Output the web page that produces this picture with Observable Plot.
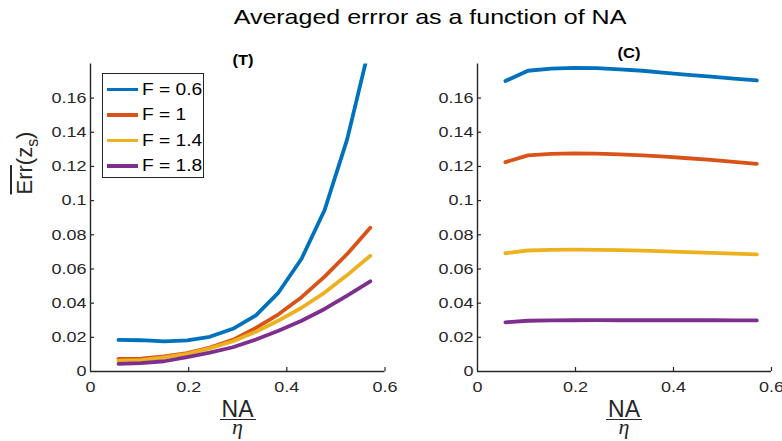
<!DOCTYPE html>
<html>
<head>
<meta charset="utf-8">
<script src="https://cdn.jsdelivr.net/npm/d3@7"></script>
<script src="https://cdn.jsdelivr.net/npm/@observablehq/plot@0.6"></script>
<style>
  body { margin: 0; background: #fff; }
  #fig { position: relative; width: 782px; height: 441px; overflow: hidden; background: #fff;
         font-family: "Liberation Sans", Arial, Helvetica, sans-serif; color: #262626; }
  .abs { position: absolute; white-space: nowrap; }
  .panel { position: absolute; top: 0; }
  .stretch { display: inline-block; transform: scaleX(1.2); transform-origin: left center; }
</style>
</head>
<body>
<div id="fig"></div>
<script>
// ---------- data ----------
const chartTitle = "Averaged errror as a function of NA";
const panelTitles = ["(T)", "(C)"];
const seriesNames = ["F = 0.6", "F = 1", "F = 1.4", "F = 1.8"];
const seriesColors = ["#0072BD", "#D95319", "#EDB120", "#7E2F8E"];

const naOverEta = [0.057, 0.103, 0.15, 0.197, 0.243, 0.29, 0.337, 0.383, 0.43, 0.477, 0.523, 0.57];

// panel (T)
const errT_F06 = [0.0185, 0.0183, 0.0176, 0.0182, 0.0203, 0.0250, 0.0328, 0.0462, 0.0660, 0.0945, 0.1360, 0.1920];
const errT_F10 = [0.0074, 0.0075, 0.0088, 0.0107, 0.0140, 0.0185, 0.0255, 0.0335, 0.0435, 0.0555, 0.0688, 0.0841];
const errT_F14 = [0.0064, 0.0066, 0.0082, 0.0103, 0.0135, 0.0177, 0.0233, 0.0298, 0.0373, 0.0462, 0.0564, 0.0677];
const errT_F18 = [0.0045, 0.0049, 0.0060, 0.0084, 0.0110, 0.0142, 0.0187, 0.0238, 0.0297, 0.0366, 0.0444, 0.0528];

// panel (C)
const errC_F06 = [0.1700, 0.1760, 0.1772, 0.1777, 0.1775, 0.1768, 0.1760, 0.1747, 0.1736, 0.1725, 0.1714, 0.1703];
const errC_F10 = [0.1225, 0.1265, 0.1273, 0.1276, 0.1275, 0.1271, 0.1265, 0.1257, 0.1248, 0.1238, 0.1227, 0.1215];
const errC_F14 = [0.0692, 0.0708, 0.0712, 0.0713, 0.0712, 0.0710, 0.0707, 0.0703, 0.0699, 0.0694, 0.0690, 0.0685];
const errC_F18 = [0.0288, 0.0297, 0.0299, 0.0300, 0.0301, 0.0300, 0.0300, 0.0300, 0.0300, 0.0300, 0.0299, 0.0299];

const xTicks = [0, 0.2, 0.4, 0.6];
const xTickLabels = ["0", "0.2", "0.4", "0.6"];
const yTicks = [0, 0.02, 0.04, 0.06, 0.08, 0.1, 0.12, 0.14, 0.16];
const yTickLabels = ["0", "0.02", "0.04", "0.06", "0.08", "0.1", "0.12", "0.14", "0.16"];
const xDomain = [0, 0.6];
const yDomain = [0, 0.18];

// ---------- build ----------
function toLong(seriesArrays) {
  const out = [];
  seriesArrays.forEach((arr, s) => arr.forEach((v, i) => out.push({x: naOverEta[i], err: v, series: seriesNames[s]})));
  return out;
}
const dataT = toLong([errT_F06, errT_F10, errT_F14, errT_F18]);
const dataC = toLong([errC_F06, errC_F10, errC_F14, errC_F18]);

const fig = document.getElementById("fig");
const AX = "#262626";
const W = 391, H = 441, MT = 63.4, MB = 70;

function panel(data, marginLeft, marginRight) {
  const innerW = W - marginLeft - marginRight;
  const innerH = H - MT - MB;
  return Plot.plot({
    width: W, height: H,
    marginLeft, marginRight, marginTop: MT, marginBottom: MB,
    style: {fontFamily: '"Liberation Sans", Arial, sans-serif', fontSize: "15px", color: AX, background: "transparent", overflow: "visible"},
    x: {domain: xDomain},
    y: {domain: yDomain},
    color: {domain: seriesNames, range: seriesColors},
    marks: [
      Plot.line(data, {x: "x", y: "err", z: "series", stroke: "series", strokeWidth: 3.8, strokeLinejoin: "round", clip: true}),
      Plot.ruleX([xDomain[0]], {stroke: AX, strokeWidth: 1.4}),
      Plot.ruleY([yDomain[0]], {stroke: AX, strokeWidth: 1.4}),
      Plot.tickX(xTicks.slice(1), {x: d => d, stroke: AX, strokeWidth: 1.2, insetTop: innerH - 4}),
      Plot.tickY(yTicks.slice(1), {y: d => d, stroke: AX, strokeWidth: 1.2, insetRight: innerW - 4}),
      Plot.axisX({ticks: xTicks, tickFormat: d => xTickLabels[xTicks.indexOf(d)], tickSize: 0, tickPadding: 10, label: null, fill: AX}),
      Plot.axisY({ticks: yTicks, tickFormat: d => yTickLabels[yTicks.indexOf(d)], tickSize: 0, tickPadding: 4, label: null, fill: AX})
    ]
  });
}

function stretchSvgText(svg, k) {
  svg.querySelectorAll('g[aria-label$="tick label"] text').forEach(t => {
    const L = t.getComputedTextLength();
    t.setAttribute("textLength", (L * k).toFixed(2));
    t.setAttribute("lengthAdjust", "spacingAndGlyphs");
  });
}

const panels = [[dataT, 90, 6.5, 0], [dataC, 86, 11, 391]];
panels.forEach(([data, ml, mr, left]) => {
  const svg = panel(data, ml, mr);
  svg.classList.add("panel");
  svg.style.left = left + "px";
  fig.appendChild(svg);
  stretchSvgText(svg, 1.2);
});

function addDiv(html, css) {
  const d = document.createElement("div");
  d.className = "abs";
  d.innerHTML = html;
  Object.assign(d.style, css);
  fig.appendChild(d);
  return d;
}

// title
addDiv(chartTitle, {left: "430px", top: "5px", fontSize: "21px", lineHeight: "24px", color: "#000",
  transform: "translateX(-50%) scaleX(1.19)"});

// panel titles
addDiv(panelTitles[0], {left: "242.5px", top: "59px", fontSize: "15px", fontWeight: "bold", lineHeight: "17px", color: "#000",
  transform: "translate(-50%,-50%) scaleX(1.1)"});
addDiv(panelTitles[1], {left: "629px", top: "51.5px", fontSize: "15px", fontWeight: "bold", lineHeight: "17px", color: "#000",
  transform: "translate(-50%,-50%) scaleX(1.1)"});

// y label (overlined Err)
addDiv('<span style="text-decoration: overline; text-decoration-thickness: 1.5px;">Err</span>(z<span style="font-size:0.72em; position: relative; top: 0.4em;">s</span>)',
  {left: "26px", top: "163px", fontSize: "22px", lineHeight: "26px", color: AX,
   transform: "translate(-50%,-50%) rotate(-90deg)"});

// x labels (fraction NA / eta)
[237.5, 624].forEach(cx => {
  addDiv("NA", {left: cx + "px", top: "400.5px", fontSize: "23px", lineHeight: "16px", color: AX, transform: "translateX(-50%)"});
  addDiv("", {left: (cx - 18) + "px", top: "419.3px", width: "36px", height: "0", borderTop: "1.8px solid " + AX});
  addDiv("&#951;", {left: cx + "px", top: "421px", fontSize: "22px", lineHeight: "12px", fontStyle: "italic",
    fontFamily: '"Liberation Serif", "DejaVu Serif", serif', color: AX, transform: "translateX(-50%)"});
});

// legend
const legend = addDiv("", {left: "101.5px", top: "73px", width: "102px", height: "105px",
  border: "1px solid " + AX, background: "#fff", boxSizing: "border-box"});
seriesNames.forEach((name, i) => {
  const row = document.createElement("div");
  Object.assign(row.style, {position: "absolute", left: "0", top: (15.5 + i * 25.6 - 10) + "px", height: "20px", width: "100px"});
  row.innerHTML =
    `<div style="position:absolute;left:4px;top:8.2px;width:31px;height:3.6px;background:${seriesColors[i]}"></div>` +
    `<span class="stretch" style="position:absolute;left:39px;top:0;font-size:16px;line-height:20px;color:#000">${name}</span>`;
  legend.appendChild(row);
});
</script>
</body>
</html>
